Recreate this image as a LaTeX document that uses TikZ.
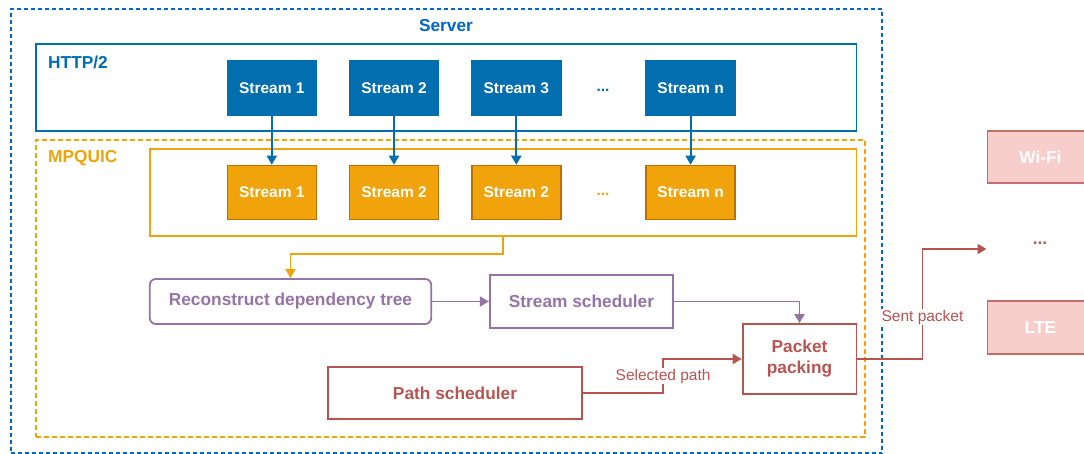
\documentclass[tikz,border=0pt]{standalone}
\usepackage{fontspec}
\setmainfont{Liberation Sans}
\usetikzlibrary{arrows.meta}
\definecolor{srvblue}{HTML}{0066CC}
\definecolor{httpblue}{HTML}{006EAF}
\definecolor{quicorange}{HTML}{F0A30A}
\definecolor{quicdark}{HTML}{BD7000}
\definecolor{schedpurple}{HTML}{9673A6}
\definecolor{pathred}{HTML}{B85450}
\definecolor{netpink}{HTML}{F8CECC}

\begin{document}
\begin{tikzpicture}[x=1pt,y=-1pt,
	big/.style={font=\fontsize{17.3}{21}\selectfont\bfseries},
	small/.style={font=\fontsize{15.5}{18}\selectfont\bfseries},
	plain/.style={font=\fontsize{15.5}{18}\selectfont},
	frame/.style={draw, line width=1.8pt, inner sep=0pt},
	h2stream/.style={small, fill=httpblue, draw=httpblue, text=white, line width=1.6pt, minimum width=89pt, minimum height=54pt, inner sep=0pt},
	qstream/.style={h2stream, fill=quicorange, draw=quicdark},
	schedbox/.style={big, draw, line width=1.8pt, inner sep=0pt},
	netbox/.style={big, text=white, draw=pathred!85, fill=netpink, line width=1.8pt, minimum width=106pt, anchor=west, inner sep=0pt},
	arr/.style={-{Triangle[length=9pt,width=10pt]}, line width=1.9pt}
	]
	\useasboundingbox (0,0) rectangle (1084,454);
	%\draw[help lines] (0,0) grid[step=50] (1084,454);
	% containers
	\node[frame, srvblue, dash pattern=on 4pt off 3pt, minimum width=871.7pt, minimum height=444pt] (server) at (446.5,231) {};
	\node[frame, httpblue, minimum width=820.2pt, minimum height=87pt] (http) at (446.3,87.5) {};
	\node[frame, quicorange, dash pattern=on 5pt off 3pt, minimum width=828.8pt, minimum height=297pt] (mpquic) at (450.6,288.5) {};
	\node[frame, quicorange, minimum width=706.6pt, minimum height=87pt] (qinner) at (503.1,192.5) {};
	\node[big, text=srvblue] (serverlbl) at (446,26) {Server};
	\node[big, text=httpblue, anchor=west, inner sep=0pt] (httplbl) at (48,62) {HTTP/2};
	\node[big, text=quicorange, anchor=west, inner sep=0pt] (quiclbl) at (48,158) {MPQUIC};
	% streams
	\foreach \x/\id/\lbl/\qlbl in {271.8/1/1/1, 394/2/2/2, 516.3/3/3/2, 690.6/n/n/n} {
		\node[h2stream] (h\id) at (\x,88) {Stream \lbl};
		\node[qstream] (q\id) at (\x,192.5) {Stream \qlbl};
		\draw[arr, httpblue] (h\id.south) -- (q\id.north);
	}
	\node[small, text=httpblue] (hdots) at (603,90) {...};
	\node[small, text=quicorange] (qdots) at (603,194) {...};
	% schedulers
	\node[schedbox, schedpurple, rounded corners=6pt, minimum width=281.4pt, minimum height=45pt] (rebuild) at (290.5,301.5) {Reconstruct dependency tree};
	\node[schedbox, schedpurple, minimum width=183.5pt, minimum height=53pt] (ssched) at (581.5,301.5) {Stream scheduler};
	\node[schedbox, pathred, minimum width=113.8pt, minimum height=70pt, align=center] (pack) at (799.5,359) {Packet\\packing};
	\node[schedbox, pathred, minimum width=253.4pt, minimum height=52pt] (psched) at (455,393) {Path scheduler};
	\draw[arr, quicorange] (qinner.south) -- ++(0,17) -| (rebuild.north);
	\draw[arr, schedpurple] (rebuild.east) -- (ssched.west);
	\draw[arr, schedpurple] (ssched.east) -| (pack.north);
	\draw[arr, pathred] (psched.east) -- ++(80.5,0) |- node[pos=0.25, plain, fill=white, inner sep=1pt] {Selected path} (pack.west);
	% networks
	\node[netbox, minimum height=52pt] (wifi) at (986.5,157) {Wi-Fi};
	\node[netbox, minimum height=53pt] (lte) at (986.5,327.5) {LTE};
	\node[big, text=pathred] (netdots) at (1040,243) {...};
	\coordinate (sendend) at (986.5,249);
	\draw[arr, pathred] (pack.east) -- ++(65.2,0) |- node[pos=0.19, plain, fill=white, inner sep=1pt] {Sent packet} (sendend);
\end{tikzpicture}
\end{document}
